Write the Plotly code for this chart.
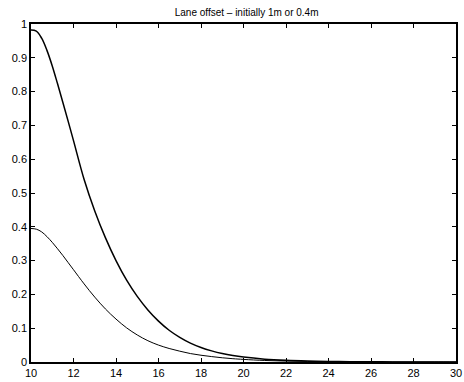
import plotly.graph_objects as go

x_vals = [10, 10.25, 10.5, 10.75, 11, 11.25, 11.5, 11.75, 12, 12.5, 13, 13.5, 14, 14.5,
          15, 15.5, 16, 16.5, 17, 17.5, 18, 18.5, 19, 19.5, 20, 21, 22, 23, 24, 25, 26,
          27, 28, 29, 30]
offset_1m = [0.982, 0.979, 0.958, 0.922, 0.876, 0.823, 0.768, 0.712, 0.655, 0.54, 0.447,
             0.368, 0.300, 0.242, 0.194, 0.154, 0.121, 0.094, 0.073, 0.056, 0.043, 0.033,
             0.025, 0.019, 0.0145, 0.0085, 0.005, 0.0029, 0.0017, 0.001, 0.0006, 0.0003,
             0.0002, 0.0001, 0.0]
offset_04m = [0.395, 0.393, 0.385, 0.371, 0.354, 0.335, 0.315, 0.294, 0.273, 0.231, 0.192,
              0.157, 0.127, 0.101, 0.080, 0.063, 0.050, 0.040, 0.032, 0.025, 0.020, 0.016,
              0.0125, 0.0098, 0.0077, 0.0045, 0.0027, 0.0016, 0.001, 0.0006, 0.0004,
              0.0002, 0.0001, 0.0001, 0.0]

x_ticks = [10, 12, 14, 16, 18, 20, 22, 24, 26, 28, 30]
y_ticks = [0, 0.1, 0.2, 0.3, 0.4, 0.5, 0.6, 0.7, 0.8, 0.9, 1]
y_tick_text = ["0", "0.1", "0.2", "0.3", "0.4", "0.5", "0.6", "0.7", "0.8", "0.9", "1"]
title_text = "Lane offset \u2013 initially 1m or 0.4m"

fig = go.Figure()
fig.add_trace(go.Scatter(x=x_vals, y=offset_1m, mode="lines",
                         line=dict(color="black", width=1.5, shape="spline", smoothing=1.0),
                         showlegend=False))
fig.add_trace(go.Scatter(x=x_vals, y=offset_04m, mode="lines",
                         line=dict(color="black", width=1.0, shape="spline", smoothing=1.0),
                         showlegend=False))

axis_common = dict(showgrid=False, zeroline=False, showline=True, linecolor="black",
                   linewidth=1.5, mirror="ticks", ticks="inside", ticklen=4,
                   tickcolor="black", tickwidth=1,
                   tickfont=dict(family="Liberation Sans, Arial, sans-serif", size=11, color="black"))

fig.update_layout(
    width=464, height=382,
    margin=dict(l=31, r=2, t=24, b=20),
    paper_bgcolor="white", plot_bgcolor="white",
    title=dict(text=title_text, x=0.5315, xanchor="center", y=0.968, yanchor="middle",
               font=dict(family="Liberation Sans, Arial, sans-serif", size=10, color="black")),
    xaxis=dict(range=[10, 30], tickvals=x_ticks, ticktext=[str(v) for v in x_ticks],
               ticklabeloverflow="allow", **axis_common),
    yaxis=dict(range=[0, 1], tickvals=y_ticks, ticktext=y_tick_text, **axis_common),
)

fig.write_html("out.html")
